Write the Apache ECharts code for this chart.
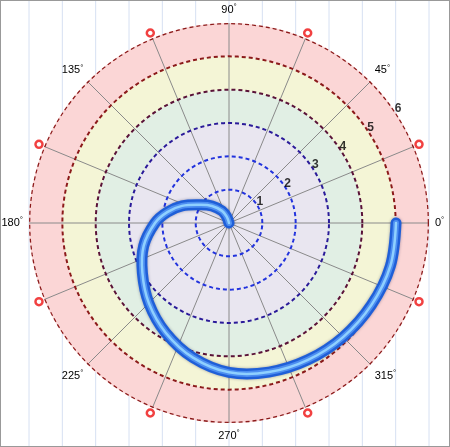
<!DOCTYPE html>
<html><head><meta charset="utf-8">
<script src="https://cdn.jsdelivr.net/npm/echarts@6/dist/echarts.min.js"></script>
<style>html,body{margin:0;padding:0;background:#fff}#c{width:450px;height:447px;box-sizing:border-box;border:1px solid #999}</style>
</head><body><div id="c"></div>
<script>
const spiralAngles = [100, 110, 120, 135, 147, 160, 170, 180, 195, 210, 225, 240, 255, 270, 285, 300, 315, 330, 345, 360];
const spiralRadii  = [0, 0.2, 0.42, 0.72, 1.0, 1.5, 1.88, 2.22, 2.65, 3.0, 3.4, 3.8, 4.18, 4.48, 4.63, 4.74, 4.84, 4.93, 5.01, 5.01];
const ringValues = [1, 2, 3, 4, 5, 6];
const ringLabels = ['1','2','3','4','5','6'];
const ringColors = ['#2233dd','#2233dd','#2a1a99','#5a1238','#8b1a1a','#8b1a1a'];
const markerAngles = [22.5, 67.5, 112.5, 157.5, 202.5, 247.5, 292.5, 337.5];
const bandColors = ['#e9e6f0','#e9e6f0','#e9e6f0','#e1efe4','#f4f5d6','#fbd6d6'];

const chart = echarts.init(document.getElementById('c'));
const cx = 228, cy = 222, R = 200;
const bg = [];
for (let k = -7; k <= 7; k++) {
  const x = cx + k * R / 6;
  if (x > 0 && x < 450) bg.push({type:'line', z:-10, shape:{x1:x,y1:0,x2:x,y2:447}, style:{stroke:'#d6e0f2', lineWidth:1}});
}
const circleAngles = [];
for (let a = 0; a <= 360; a += 3) circleAngles.push(a);
const ringSeries = ringValues.map((r, i) => ({
  type: 'line', coordinateSystem: 'polar', symbol: 'none', silent: true, z: 3, clip: false,
  data: circleAngles.map(a => [r, a]),
  lineStyle: {color: ringColors[i], width: r === 6 ? 2.5 : 2, type: [4, 3]}
}));
const spiralData = spiralAngles.map((a, i) => [spiralRadii[i], a]);
chart.setOption({
  backgroundColor: '#fff',
  graphic: bg,
  polar: {center: [cx, cy], radius: R},
  angleAxis: {
    type: 'value', min: 0, max: 360, interval: 22.5, startAngle: 0, clockwise: false,
    axisLine: {show: false},
    axisTick: {show: false},
    splitLine: {show: true, lineStyle: {color: '#8a8a8a', width: 1}},
    axisLabel: {
      margin: 6, color: '#000', fontSize: 11, fontFamily: 'Liberation Sans',
      formatter: v => (v % 45 === 0 && v < 360) ? v + '{d|°}' : '',
      rich: {d: {fontSize: 8, verticalAlign: 'top', padding: [0,0,6,0]}}
    }
  },
  radiusAxis: {
    type: 'value', min: 0, max: 6, interval: 1,
    axisLine: {show: false}, axisTick: {show: false}, axisLabel: {show: false},
    splitLine: {show: false},
    splitArea: {show: true, areaStyle: {color: bandColors}}
  },
  series: ringSeries.concat([
    {type: 'custom', coordinateSystem: 'polar', silent: true, z: 5, clip: false,
     data: spiralData,
     renderItem: function (params, api) {
       if (params.dataIndex !== 0) return null;
       const pts = spiralData.map(d => api.coord(d));
       return {type: 'group', children: [
         {type: 'polyline', shape: {points: pts, smooth: 0.35},
          style: {fill: 'none', stroke: '#1f5fd8', lineWidth: 11, lineCap: 'round', shadowColor: 'rgba(0,0,60,0.35)', shadowBlur: 3}},
         {type: 'polyline', shape: {points: pts, smooth: 0.35},
          style: {fill: 'none', stroke: '#4d8ef0', lineWidth: 6, lineCap: 'round'}},
         {type: 'polyline', shape: {points: pts, smooth: 0.35},
          style: {fill: 'none', stroke: '#8fd0ff', lineWidth: 2.5, lineCap: 'round'}}
       ]};
     }},
    {type: 'scatter', coordinateSystem: 'polar', symbol: 'circle', symbolSize: 7, silent: true, clip: false, z: 7,
     itemStyle: {color: '#fff', borderColor: '#ee1111', borderWidth: 2.5},
     data: markerAngles.map(a => [6.17, a])},
    {type: 'scatter', coordinateSystem: 'polar', symbolSize: 0, silent: true, clip: false, z: 7,
     label: {show: true, position: 'inside', color: '#000', fontSize: 12, fontWeight: 'bold', fontFamily: 'Liberation Sans', formatter: p => p.name},
     data: ringLabels.map((t, i) => ({name: t, value: [ringValues[i] + 0.12, 34]}))}
  ])
});
</script></body></html>
